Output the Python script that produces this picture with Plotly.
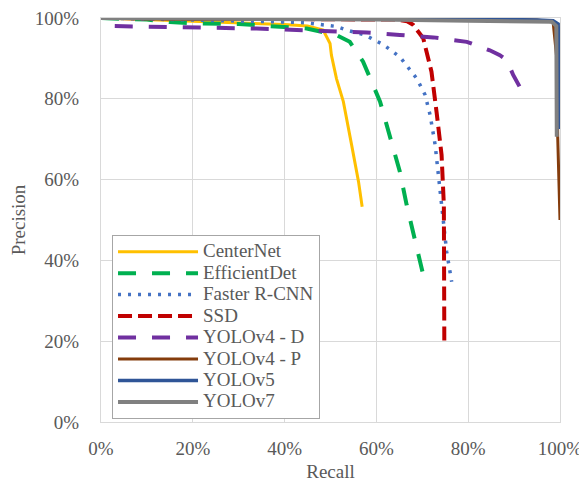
import plotly.graph_objects as go

# ---- data (recall %, precision %) ----
centernet_r = [0, 10, 20, 30, 40, 45, 48.4, 49.9, 50.2, 51.3, 52.8, 54.6, 56.1, 56.9]
centernet_p = [100, 99.6, 99.2, 98.8, 98.4, 98.0, 97.0, 93.7, 90.8, 85.0, 79.3, 68.6, 59.5, 53.3]

effdet_r = [0, 10, 15, 20, 30, 40, 44.8, 48, 51.3, 54.2, 57.1, 60.8, 63, 65.1, 66.6, 68.4, 70.2]
effdet_p = [100, 99.6, 99.0, 98.7, 98.5, 97.8, 97.4, 96.6, 95.8, 94.1, 89.2, 79.3, 70.2, 62.0, 53.7, 45.5, 36.4]

frcnn_r = [0, 10, 20, 30, 40, 45, 49.1, 51.3, 53.5, 57.5, 61.5, 65.1, 68.8, 70.6, 71.7, 72.8, 73.9, 74.6, 75.3, 76.4]
frcnn_p = [100, 99.8, 99.5, 99.3, 99.0, 98.8, 98.3, 97.9, 97.0, 95.8, 93.4, 90.4, 85.0, 81.0, 76.0, 68.6, 57.0, 49.6, 42.2, 34.7]

ssd_r = [0, 20, 40, 60, 64.5, 66.7, 68.0, 70.2, 72.0, 73.1, 74.2, 74.7, 74.8, 74.8]
ssd_p = [100, 99.9, 99.9, 99.8, 99.6, 99.2, 98.3, 95.0, 86.7, 76.8, 66.1, 53.7, 37.2, 19.1]

y4d_r = [3, 10, 20, 33.9, 48.4, 57.9, 65.1, 72.4, 79.7, 84.7, 86.9, 88.4, 89.8, 91.6]
y4d_p = [98.0, 97.9, 97.8, 97.4, 96.8, 96.4, 95.8, 95.2, 94.1, 92.0, 90.8, 89.6, 85.9, 82.2]

y4p_r = [0, 20, 40, 60, 80, 95, 98.5, 99.3, 99.5, 100]
y4p_p = [100, 99.6, 99.7, 99.8, 99.8, 99.5, 99.0, 90.0, 70.6, 50.0]

y5_r = [0, 20, 40, 60, 80, 95, 98.5, 99.6, 99.8, 99.8]
y5_p = [100, 100, 100, 99.9, 99.8, 99.5, 99.3, 98.5, 90.0, 72.5]

y7_r = [0, 20, 40, 60, 80, 98.2, 99.2, 99.3, 99.3]
y7_p = [100, 99.9, 99.8, 99.6, 99.3, 99.1, 98.0, 85.0, 70.6]

names = ["CenterNet", "EfficientDet", "Faster R-CNN", "SSD", "YOLOv4 - D", "YOLOv4 - P", "YOLOv5", "YOLOv7"]
x_ticks = [0, 20, 40, 60, 80, 100]
y_ticks = [0, 20, 40, 60, 80, 100]

series = [
    (centernet_r, centernet_p, "#FFC000", 3, "solid"),
    (effdet_r, effdet_p, "#00B050", 4, "18px,16px"),
    (frcnn_r, frcnn_p, "#4472C4", 3.5, "3px,7px"),
    (ssd_r, ssd_p, "#C00000", 4, "14px,6px"),
    (y4d_r, y4d_p, "#7030A0", 4, "18px,16px"),
    (y4p_r, y4p_p, "#843C0C", 3, "solid"),
    (y5_r, y5_p, "#2F5597", 3.5, "solid"),
    (y7_r, y7_p, "#808080", 4, "solid"),
]

fig = go.Figure()
for name, (r, p, col, w, dash) in zip(names, series):
    fig.add_trace(go.Scatter(
        x=[v / 100 for v in r], y=[v / 100 for v in p], mode="lines",
        name=f"<span style='font-size:19px;font-family:Liberation Serif'>{name}</span>",
        line=dict(color=col, width=w, dash=dash),
    ))

font_family = "Liberation Serif, Times New Roman, serif"
txt = "#595959"

fig.update_layout(
    width=587, height=483,
    margin=dict(l=93, r=35, t=10, b=69, autoexpand=False),
    paper_bgcolor="white", plot_bgcolor="white",
    font=dict(family=font_family, color=txt, size=19),
    legend=dict(
        x=0.024, y=0.463, xanchor="left", yanchor="top",
        bgcolor="white", bordercolor="#a6a6a6", borderwidth=1,
        font=dict(family=font_family, size=14.2, color=txt),
        tracegroupgap=0, itemwidth=80,
    ),
    showlegend=True,
)
fig.update_xaxes(
    range=[0, 1], tickvals=[v / 100 for v in x_ticks], ticktext=[f"{v}%" for v in x_ticks],
    showgrid=True, gridcolor="#d9d9d9", gridwidth=1,
    showline=True, linecolor="#d9d9d9", linewidth=1, mirror=True,
    zeroline=False, ticks="", ticklen=0, automargin=False, ticklabelstandoff=9,
    ticklabeloverflow="allow",
    title=dict(text="Recall", font=dict(size=19, color=txt), standoff=6),
    tickfont=dict(size=19, color=txt),
)
fig.update_yaxes(
    range=[0, 1], tickvals=[v / 100 for v in y_ticks], ticktext=[f"{v}%" for v in y_ticks],
    showgrid=True, gridcolor="#d9d9d9", gridwidth=1,
    showline=True, linecolor="#d9d9d9", linewidth=1, mirror=True,
    zeroline=False, ticks="", ticklen=0, automargin=False, ticklabelstandoff=17,
    ticklabeloverflow="allow",
    title=dict(text="Precision", font=dict(size=19, color=txt), standoff=13),
    tickfont=dict(size=19, color=txt),
)

fig.write_html("out.html")
